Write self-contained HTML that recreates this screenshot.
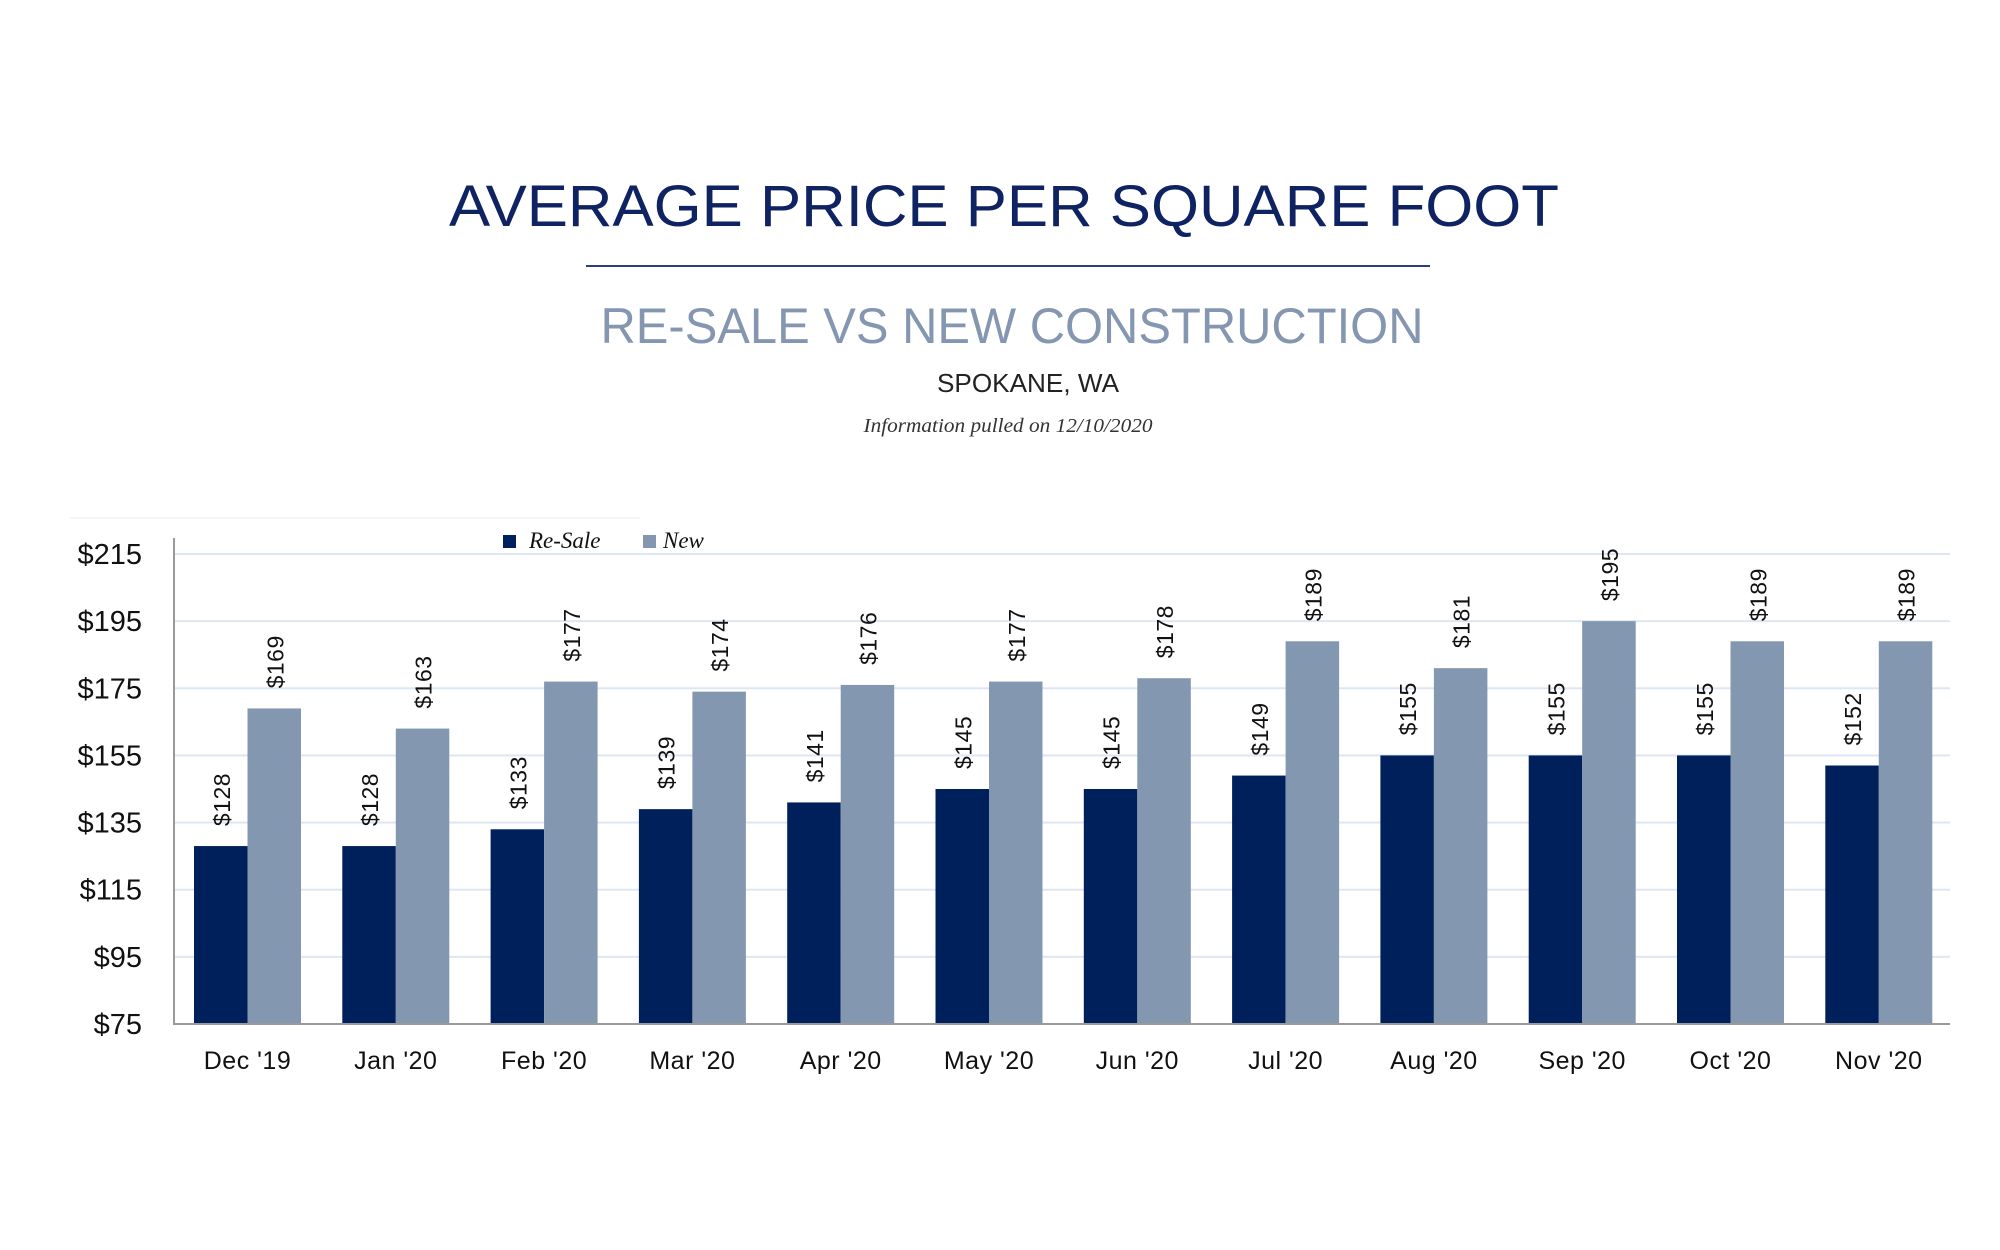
<!DOCTYPE html>
<html><head><meta charset="utf-8"><style>
html,body{margin:0;padding:0;background:#fff;width:2000px;height:1250px;overflow:hidden}
</style></head><body>
<svg width="2000" height="1250" xmlns="http://www.w3.org/2000/svg">
<rect width="2000" height="1250" fill="#fff"/>
<text x="1004" y="226" text-anchor="middle" font-family="Liberation Sans, sans-serif" font-size="58" fill="#0f2261" textLength="1110" lengthAdjust="spacingAndGlyphs">AVERAGE PRICE PER SQUARE FOOT</text>
<rect x="586" y="265" width="844" height="2" fill="#2b3f78"/>
<text x="1012" y="343" text-anchor="middle" font-family="Liberation Sans, sans-serif" font-size="50" fill="#8496b0" textLength="823" lengthAdjust="spacingAndGlyphs">RE-SALE VS NEW CONSTRUCTION</text>
<text x="1028" y="392" text-anchor="middle" font-family="Liberation Sans, sans-serif" font-size="26" fill="#222" textLength="182" lengthAdjust="spacingAndGlyphs">SPOKANE, WA</text>
<text x="1008" y="432" text-anchor="middle" font-family="Liberation Serif, serif" font-style="italic" font-size="20" fill="#333" textLength="289" lengthAdjust="spacingAndGlyphs">Information pulled on 12/10/2020</text>
<rect x="70" y="517" width="570" height="2" fill="#f6f6f6"/>
<g id="chart"></g>
</svg>
<script>
(function(){
var g=document.getElementById('chart'),h='';
var L=174,R=1950,B=1024,T=554,per=(B-T)/140;
function y(v){return B-(v-75)*per;}
for(var i=0;i<=7;i++){var v=75+20*i,yy=y(v);
 if(i>0)h+='<rect x="'+L+'" y="'+(yy-1)+'" width="'+(R-L)+'" height="2" fill="#dde7f3"/>';
 h+='<text x="142" y="'+(yy+10)+'" text-anchor="end" font-family="Liberation Sans, sans-serif" font-size="29" fill="#111">$'+v+'</text>';}
var labs=["Dec '19","Jan '20","Feb '20","Mar '20","Apr '20","May '20","Jun '20","Jul '20","Aug '20","Sep '20","Oct '20","Nov '20"];
var rs=[128,128,133,139,141,145,145,149,155,155,155,152],nw=[169,163,177,174,176,177,178,189,181,195,189,189];
var p=148.3;
for(var i=0;i<12;i++){var x0=194+p*i,w=53.5;
 var a=y(rs[i]),b=y(nw[i]);
 h+='<rect x="'+x0+'" y="'+a+'" width="'+w+'" height="'+(B-a)+'" fill="#00205b"/>';
 h+='<rect x="'+(x0+w)+'" y="'+b+'" width="'+w+'" height="'+(B-b)+'" fill="#8497b0"/>';
 var cx=x0+w/2+9,cy=a-20;
 h+='<text transform="translate('+cx+','+cy+') rotate(-90)" font-family="Liberation Sans, sans-serif" font-size="23" letter-spacing="0.5" fill="#111">$'+rs[i]+'</text>';
 cx=x0+w*1.5+9;cy=b-20;
 h+='<text transform="translate('+cx+','+cy+') rotate(-90)" font-family="Liberation Sans, sans-serif" font-size="23" letter-spacing="0.5" fill="#111">$'+nw[i]+'</text>';
 h+='<text x="'+(x0+w)+'" y="1069" text-anchor="middle" font-family="Liberation Sans, sans-serif" font-size="25" letter-spacing="0.5" fill="#111">'+labs[i]+'</text>';
}
h+='<rect x="'+(L-1)+'" y="538" width="2" height="'+(B-537)+'" fill="#9a9a9a"/>';
h+='<rect x="'+L+'" y="'+(B-1)+'" width="'+(R-L)+'" height="2" fill="#9a9a9a"/>';
h+='<rect x="503" y="535" width="13" height="13" fill="#00205b"/>';
h+='<text x="529" y="548" font-family="Liberation Serif, serif" font-style="italic" font-size="23" fill="#111">Re-Sale</text>';
h+='<rect x="643" y="535" width="13" height="13" fill="#8497b0"/>';
h+='<text x="663" y="548" font-family="Liberation Serif, serif" font-style="italic" font-size="23" fill="#111">New</text>';
g.innerHTML=h;
})();
</script>
</body></html>
